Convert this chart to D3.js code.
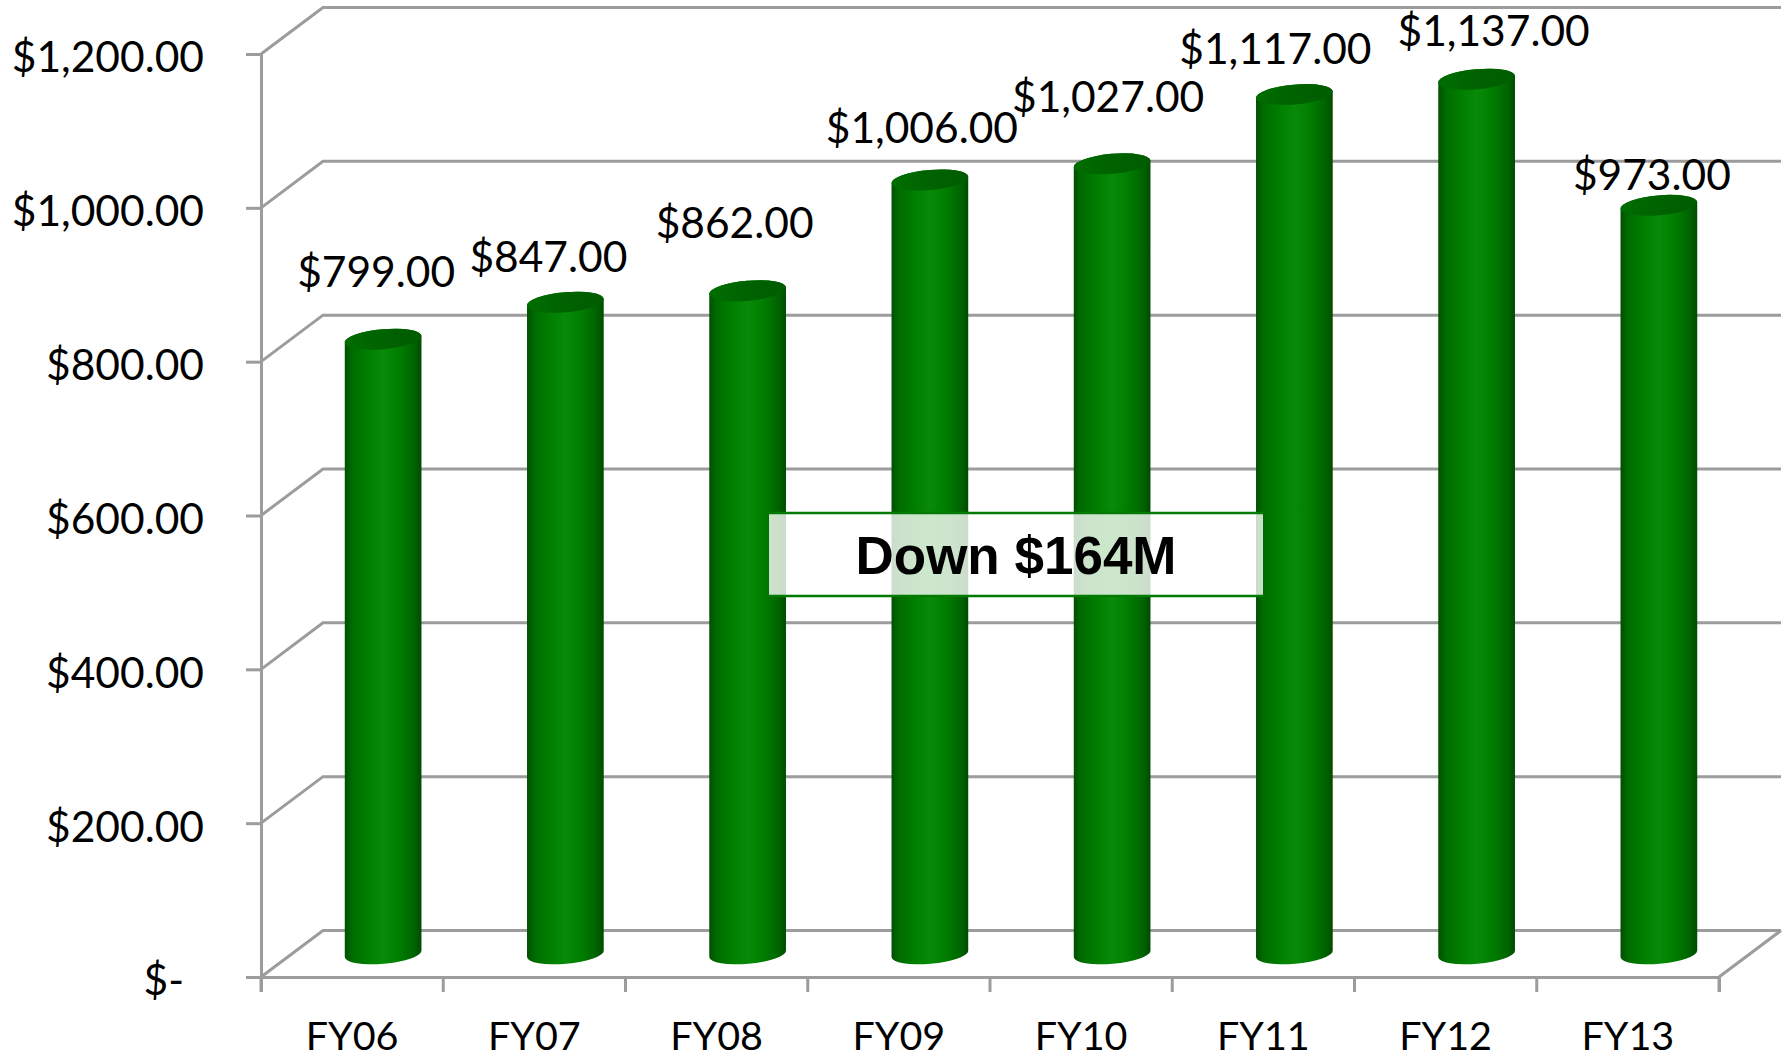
<!DOCTYPE html>
<html>
<head>
<meta charset="utf-8">
<script src="https://cdn.jsdelivr.net/npm/d3@7"></script>
<style>
  html, body { margin: 0; padding: 0; background: #fff; }
  svg { display: block; }
  text { font-family: Lato, "Open Sans", sans-serif; fill: #000; }
</style>
</head>
<body>
<svg class="chart"></svg>
<script>
let categories = ["FY06", "FY07", "FY08", "FY09", "FY10", "FY11", "FY12", "FY13"];
let values = [799, 847, 862, 1006, 1027, 1117, 1137, 973];
let yTicks = [0, 200, 400, 600, 800, 1000, 1200];
let note = "Down $164M";

let w = 1789;
let h = 1058;
let left = 261, right = 1719, top_ = 54, bottom = 977;
let depthX = 62, depthY = 46.5; // fake 3d, the back wall sits this far up and right
let barW = 77, ry = 10, tilt = -5;
let fontSize = 42.5;
let grey = "#9c9c9c";

// hand placed data labels in the original, offset from the bar top
let labelNudge = [[-7, -52], [-17, -30], [-13, -53], [-8, -37], [-4, -52], [-19, -31], [17, -33], [-7, -15]];

var svg = d3.select(".chart").attr("width", w).attr("height", h);

var x = d3.scaleBand().domain(categories).range([left, right]);
var y = d3.scaleLinear().domain([0, 1200]).range([bottom, top_]);
var money = d3.format("$,.2f");

var defs = svg.append("defs");
var side = defs.append("linearGradient").attr("id", "side");
[[0, "#005000"], [0.1, "#006c00"], [0.3, "#007e00"], [0.5, "#088a08"], [0.7, "#007e00"], [0.9, "#006400"], [1, "#004c00"]]
  .forEach(s => side.append("stop").attr("offset", s[0]).attr("stop-color", s[1]));
var cap = defs.append("linearGradient").attr("id", "cap");
[[0, "#006e00"], [0.5, "#006200"], [1, "#005c00"]]
  .forEach(s => cap.append("stop").attr("offset", s[0]).attr("stop-color", s[1]));

// back wall and gridlines
var grid = svg.append("g").attr("fill", "none").attr("stroke", grey).attr("stroke-width", 3);
grid.selectAll("path")
  .data(yTicks)
  .enter().append("path")
  .attr("d", d => "M" + left + "," + y(d) + "L" + (left + depthX) + "," + (y(d) - depthY) + "H" + (right + depthX));
grid.append("path")
  .attr("d", "M" + right + "," + bottom + "L" + (right + depthX) + "," + (bottom - depthY));

// axes
var yAxis = svg.append("g")
  .attr("transform", "translate(" + left + ",0)")
  .call(d3.axisLeft(y).tickValues(yTicks).tickSize(15).tickPadding(42)
    .tickFormat(d => d === 0 ? "$-" : money(d)));
var xAxis = svg.append("g")
  .attr("transform", "translate(0," + bottom + ")")
  .call(d3.axisBottom(x).tickSize(15).tickPadding(30));
[yAxis, xAxis].forEach(a => {
  a.selectAll("path, line").attr("stroke", grey).attr("stroke-width", 3);
  a.selectAll("text").style("font-family", "Lato");
});
yAxis.selectAll("text").style("font-size", fontSize + "px");
xAxis.selectAll("text").style("font-size", "39.5px");
// the outer tick of a band axis is on the domain ends, Excel marks every band edge
xAxis.selectAll(".tick line").remove();
xAxis.selectAll(".edge")
  .data(d3.range(categories.length + 1))
  .enter().append("line")
  .attr("x1", i => left + i * x.step()).attr("x2", i => left + i * x.step())
  .attr("y1", 0).attr("y2", 15)
  .attr("stroke", grey).attr("stroke-width", 3);
yAxis.selectAll(".tick text").attr("dy", "0.42em");
yAxis.selectAll(".tick text").filter(d => d === 0).attr("dx", -20);

// cylinders
function corner(cx, cy, sign) {
  let a = tilt * Math.PI / 180;
  return [cx + sign * barW / 2 * Math.cos(a), cy + sign * barW / 2 * Math.sin(a)];
}
function body(d) {
  let cx = x(d.cat) + x.bandwidth() / 2 + depthX / 2;
  let t = y(d.val) - depthY / 2, b = y(0) - depthY / 2;
  let tl = corner(cx, t, -1), tr = corner(cx, t, 1), bl = corner(cx, b, -1), br = corner(cx, b, 1);
  return "M" + tl + "L" + bl + "A" + (barW / 2) + "," + ry + " " + tilt + " 0 0 " + br + "L" + tr +
         "A" + (barW / 2) + "," + ry + " " + tilt + " 0 0 " + tl + "Z";
}
var rows = categories.map((c, i) => ({cat: c, val: values[i], i: i}));
var bars = svg.append("g").selectAll("g").data(rows).enter().append("g");
bars.append("path").attr("d", body).attr("fill", "url(#side)");
bars.append("ellipse")
  .attr("rx", barW / 2).attr("ry", ry)
  .attr("transform", d => "translate(" + (x(d.cat) + x.bandwidth() / 2 + depthX / 2) + "," + (y(d.val) - depthY / 2) + ") rotate(" + tilt + ")")
  .attr("fill", "url(#cap)");

// value labels
svg.append("g").selectAll("text").data(rows).enter().append("text")
  .attr("x", d => x(d.cat) + x.bandwidth() / 2 + depthX / 2 + labelNudge[d.i][0])
  .attr("y", d => y(d.val) - depthY / 2 + labelNudge[d.i][1])
  .attr("text-anchor", "middle")
  .style("font-size", fontSize + "px")
  .text(d => money(d.val));

// callout
var box = {x: 769, y: 513, w: 494, h: 83};
svg.append("rect").attr("x", box.x).attr("y", box.y).attr("width", box.w).attr("height", box.h)
  .attr("fill", "#fff").attr("fill-opacity", 0.8);
[box.y, box.y + box.h].forEach(v => svg.append("line")
  .attr("x1", box.x).attr("x2", box.x + box.w).attr("y1", v).attr("y2", v)
  .attr("stroke", "#007a00").attr("stroke-width", 2.5));
svg.append("text")
  .attr("x", 1016).attr("y", 574)
  .attr("text-anchor", "middle")
  .style("font-family", "'Liberation Sans'").style("font-weight", "bold").style("font-size", "53px")
  .text(note);
</script>
</body>
</html>
